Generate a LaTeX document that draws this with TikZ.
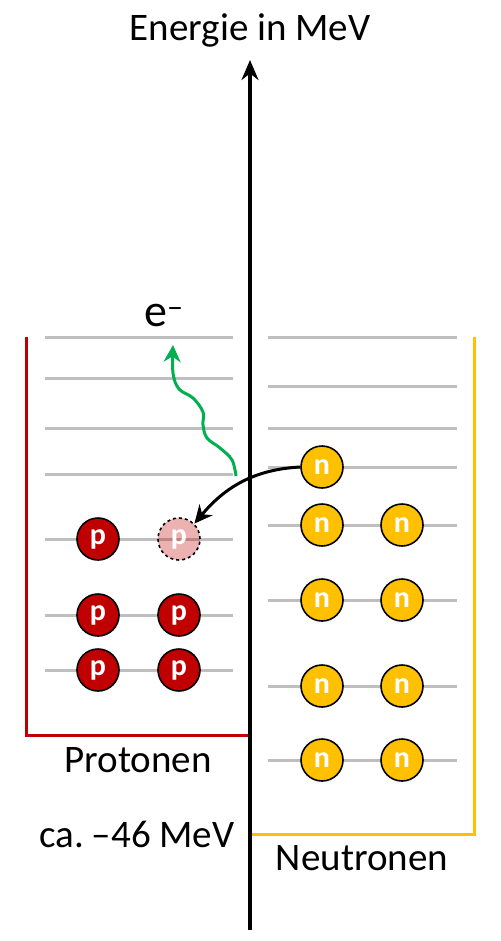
\documentclass[tikz,border=0pt]{standalone}
\usepackage{fontspec}
\setmainfont{Carlito}
\usetikzlibrary{arrows.meta}

\begin{document}
\begin{tikzpicture}[x=1pt, y=-1pt,
    level/.style={draw=levelGray, line width=3pt},
    proton/.style={circle, draw=black, line width=1.6pt, fill=protonRed, minimum size=42pt,
        inner sep=0pt, text=white, font=\fontsize{30}{32}\selectfont\bfseries},
    neutron/.style={proton, fill=neutronYellow},
    label/.style={font=\fontsize{39}{44}\selectfont}]
    % Define colours
    \definecolor{protonRed}{HTML}{C00000}
    \definecolor{neutronYellow}{HTML}{FFC000}
    \definecolor{levelGray}{HTML}{BFBFBF}
    \definecolor{photonGreen}{HTML}{00B050}

    % Page frame
    \useasboundingbox (0,0) rectangle (500,941);

    % Draw proton levels
    \foreach \y in {337,378,428,474,539,615,670}
        \draw[level] (45,\y) -- (233,\y);

    % Draw neutron levels
    \foreach \y in {337,386,428,467,525,600,686,760}
        \draw[level] (268,\y) -- (457,\y);

    % Draw potential wells
    \draw[protonRed, line width=3pt] (26,337) -- (26,735) -- (250,735);
    \draw[neutronYellow, line width=3pt] (474,337) -- (474,834) -- (250,834);

    % Draw energy axis
    \coordinate (axisBottom) at (250,930);
    \coordinate (axisTop) at (250,60);
    \draw[line width=3.2pt, -{Stealth[length=20pt,width=17pt]}] (axisBottom) -- (axisTop);
    \node[label] (axisLabel) at (250,30) {Energie in MeV};

    % Protons
    \node[proton] (p1) at (98,539) {p};
    \node[proton, fill opacity=0.3, text opacity=1, dashed] (p2) at (179,539) {p};
    \node[proton] (p3) at (98,615) {p};
    \node[proton] (p4) at (179,615) {p};
    \node[proton] (p5) at (98,670) {p};
    \node[proton] (p6) at (179,670) {p};

    % Neutrons
    \node[neutron] (n1) at (322,467) {n};
    \foreach \y [count=\i from 2] in {525,600,686,760} {
        \node[neutron] (na\i) at (322,\y) {n};
        \node[neutron] (nb\i) at (402,\y) {n};
    }

    % Beta decay: neutron turns into proton
    \draw[line width=3pt, -{Stealth[length=18pt,width=17pt]}]
        (n1.west) to[out=183, in=50] (p2.north east);

    % Emitted electron
    \node[font=\fontsize{46}{50}\selectfont] (electron) at (164,316) {e\textsuperscript{–}};
    \coordinate (emission) at (236,476);
    \draw[photonGreen, line width=3pt, -{Stealth[length=17pt,width=17pt]}]
        plot[smooth, tension=0.6] coordinates {(emission) (232,460) (220,448) (207,438) (203,425)
        (203,412) (193,398) (179,389) (173,373) (173,345)};

    % Labels
    \node[label] (protonLabel) at (138,760) {Protonen};
    \node[label] (depthLabel) at (137,834) {ca.\hspace{-4pt} –46 MeV};
    \node[label] (neutronLabel) at (362,858) {Neutronen};

\end{tikzpicture}
\end{document}
